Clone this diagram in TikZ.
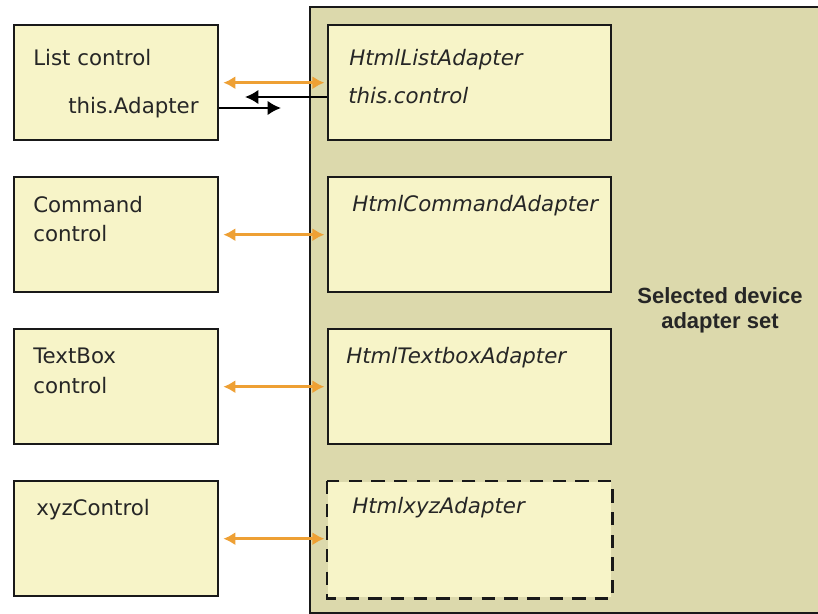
\documentclass[tikz,border=0pt]{standalone}
\usepackage{fontspec}
\setmainfont{DejaVu Sans}
\newfontfamily\boldlab{Liberation Sans}
\usetikzlibrary{arrows.meta}
\definecolor{boxfill}{RGB}{247,244,200}
\definecolor{panelfill}{RGB}{220,217,172}
\definecolor{linkorange}{RGB}{238,160,52}
\begin{document}
\begin{tikzpicture}[x=0.75pt,y=-0.75pt,
  ctrlbox/.style={draw=black!90,line width=1.8pt,fill=boxfill,rectangle,anchor=north west,
     minimum width=153pt,minimum height=86.25pt,inner sep=0pt},
  adpbox/.style={draw=black!90,line width=1.8pt,fill=boxfill,rectangle,anchor=north west,
     minimum width=212.25pt,minimum height=86.25pt,inner sep=0pt},
  lab/.style={anchor=base west,inner sep=0pt,font=\fontsize{16pt}{19pt}\selectfont,text=black!85},
  ilab/.style={lab,font=\fontsize{16pt}{19pt}\selectfont\itshape},
  orangelink/.style={draw=linkorange,line width=1.9pt,{Latex[length=9pt,width=10pt]}-{Latex[length=9pt,width=10pt]},
     shorten <=3pt,shorten >=2pt},
  blacklink/.style={draw=black,line width=1.9pt,-{Latex[length=10pt,width=11pt]}}
]
\useasboundingbox (0,0) rectangle (818,614);
\fill[white] (0,0) rectangle (818,614);
% panel (its right side runs past the picture's edge)
\node[draw=black!90,line width=1.8pt,fill=panelfill,rectangle,anchor=north west,
      minimum width=390pt,minimum height=454.5pt,inner sep=0pt] (panel) at (309,6) {};
\node[anchor=base,inner sep=0pt,align=center,font=\boldlab\bfseries\fontsize{16.5pt}{18.5pt}\selectfont,text=black!85] (setlab) at (720,328) {Selected device\\adapter set};
% left controls
\node[ctrlbox] (list) at (13,24) {};
\node[ctrlbox] (cmd) at (13,176) {};
\node[ctrlbox] (tbox) at (13,328) {};
\node[ctrlbox] (xyz) at (13,480) {};
% adapters
\node[adpbox] (ladp) at (327,24) {};
\node[adpbox] (cadp) at (327,176) {};
\node[adpbox] (tadp) at (327,328) {};
\node[adpbox,draw=none] (xadp) at (327,481) {};
\draw[line width=1.8pt,black!90,dash pattern=on 10pt off 7pt] (xadp.north west) rectangle (xadp.south east);
% texts
\node[lab] (t1) at (33,65) {List control};
\node[lab] (t2) at (68,113) {this.Adapter};
\node[lab] (t3) at (33,212) {Command};
\node[lab] (t4) at (33,241) {control};
\node[lab] (t5) at (33,363) {TextBox};
\node[lab] (t6) at (33,393) {control};
\node[lab] (t7) at (36,515) {xyzControl};
\node[ilab] (a1) at (349,65) {HtmlListAdapter};
\node[ilab] (a2) at (348,103) {this.control};
\node[ilab] (a3) at (352,211) {HtmlCommandAdapter};
\node[ilab] (a4) at (346,363) {HtmlTextboxAdapter};
\node[ilab] (a5) at (352,513) {HtmlxyzAdapter};
% connectors
\draw[orangelink] (list.east) -- (ladp.west |- list.east);
\draw[orangelink] (cmd.east) -- (cadp.west |- cmd.east);
\draw[orangelink] (tbox.east) -- (tadp.west |- tbox.east);
\draw[orangelink] (xyz.east) -- (xadp.west |- xyz.east);
\coordinate (bl) at (245,97);
\coordinate (br) at (281,108);
\draw[blacklink] (ladp.west |- bl) -- (bl);
\draw[blacklink] (list.east |- br) -- (br);
\end{tikzpicture}
\end{document}
